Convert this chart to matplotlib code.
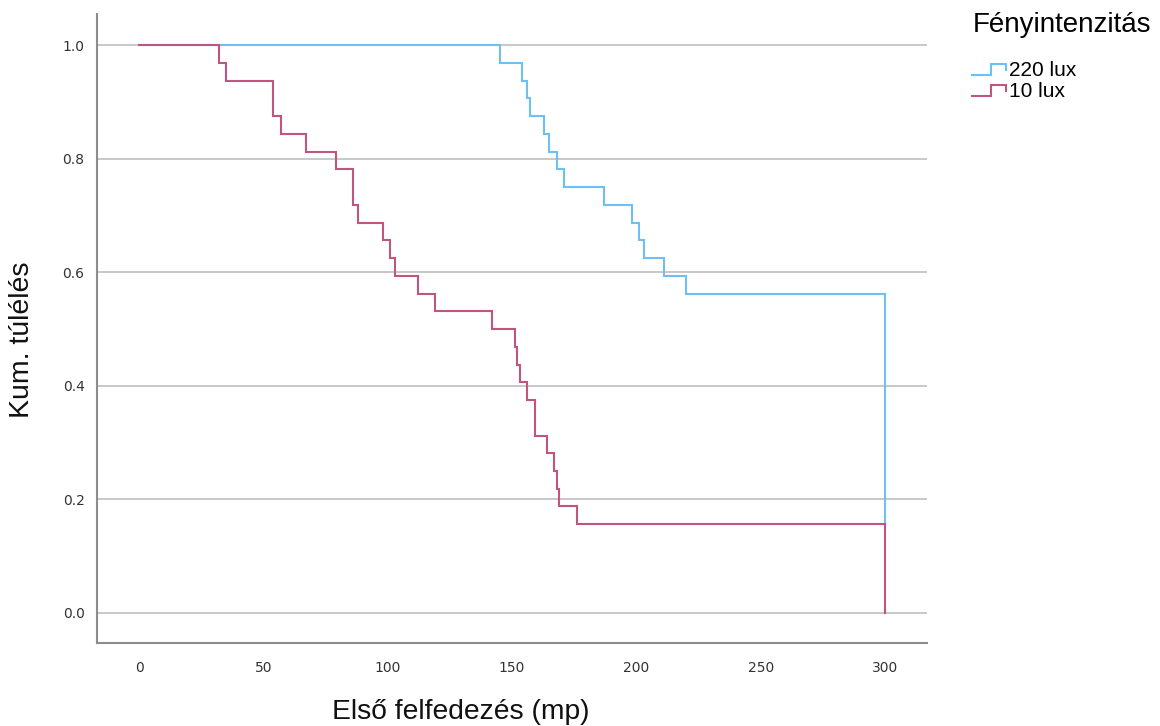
import numpy as np
import matplotlib
matplotlib.use("Agg")
import matplotlib.pyplot as plt
from matplotlib.legend_handler import HandlerBase
from matplotlib.lines import Line2D

# ---- data (event times in seconds, no censoring; n = 32 per group) ----
groups = ["220 lux", "10 lux"]
times_220 = [145, 154, 156, 157, 163, 165, 168, 171, 187, 198, 201, 203, 211, 220] + [300] * 18
times_10 = [32, 35, 54, 54, 57, 67, 79, 86, 86, 88, 98, 101, 103, 112, 119, 142,
            151, 152, 153, 156, 159, 159, 164, 167, 168, 169, 176] + [300] * 5
colors = ["#6cc0f5", "#c2557f"]
x_ticks = [0, 50, 100, 150, 200, 250, 300]
y_ticks = [0.0, 0.2, 0.4, 0.6, 0.8, 1.0]
x_label = "Első felfedezés (mp)"
y_label = "Kum. túlélés"
legend_title = "Fényintenzitás"


def km_steps(times):
    t = np.array(times, dtype=float)
    n = len(t)
    uniq, counts = np.unique(t, return_counts=True)
    surv = 1 - np.cumsum(counts) / n
    xs = np.concatenate([[0.0], uniq])
    ys = np.concatenate([[1.0], surv])
    return xs, ys


class StepHandler(HandlerBase):
    def create_artists(self, legend, orig_handle, xdescent, ydescent, width, height, fontsize, trans):
        x0, x1 = -xdescent, -xdescent + width
        xm = x0 + 0.55 * width
        ylo = -ydescent + 0.05 * height
        yhi = -ydescent + 0.8 * height
        ymid = -ydescent + 0.4 * height
        line = Line2D([x0, xm, xm, x1, x1], [ylo, ylo, yhi, yhi, ymid],
                      color=orig_handle.get_color(), lw=orig_handle.get_linewidth(),
                      solid_joinstyle="miter", transform=trans)
        return [line]


fig = plt.figure(figsize=(11.6, 7.26), dpi=100)
ax = fig.add_axes([97 / 1160, 1 - 643 / 726, (927 - 97) / 1160, (643 - 14) / 726])

handles = []
for name, times, c in zip(groups, [times_220, times_10], colors):
    xs, ys = km_steps(times)
    h, = ax.step(xs, ys, where="post", color=c, lw=1.5, label=name, solid_joinstyle="miter")
    handles.append(h)

ax.set_xlim(-16.9, 316.8)
ax.set_ylim(-0.053, 1.055)
ax.set_xticks(x_ticks)
ax.set_yticks(y_ticks)
ax.set_yticklabels([f"{v:.1f}" for v in y_ticks])
ax.tick_params(axis="both", length=0, labelsize=10, colors="#333333")
ax.tick_params(axis="x", pad=13)
ax.tick_params(axis="y", pad=9)
ax.grid(axis="y", color="#c8c8c8", lw=1.4)
ax.set_axisbelow(True)
for s in ["top", "right"]:
    ax.spines[s].set_visible(False)
for s in ["left", "bottom"]:
    ax.spines[s].set_color("#8c8c8c")
    ax.spines[s].set_linewidth(1.5)

ax.set_xlabel(x_label, fontsize=20.3, family="Liberation Sans", color="#111111")
ax.xaxis.set_label_coords((461 - 97) / 830, (643 - 712) / 629)
ax.xaxis.label.set_va("center")
ax.set_ylabel(y_label, fontsize=20.5, family="Liberation Sans", color="#111111")
ax.yaxis.set_label_coords((22 - 97) / 830, (643 - 340) / 629)
ax.yaxis.label.set_va("center")

leg = fig.legend(handles=handles, labels=groups, title=legend_title,
                 loc="upper left", bbox_to_anchor=(964 / 1160, 1 - 4 / 726),
                 frameon=False, handler_map={Line2D: StepHandler()},
                 handlelength=1.6, handletextpad=0.15, labelspacing=0.1,
                 prop={"family": "Liberation Sans", "size": 15},
                 title_fontproperties={"family": "Liberation Sans", "size": 20},
                 alignment="left", borderaxespad=0)
leg._legend_box.sep = 16

fig.savefig("out.png", dpi=100)
